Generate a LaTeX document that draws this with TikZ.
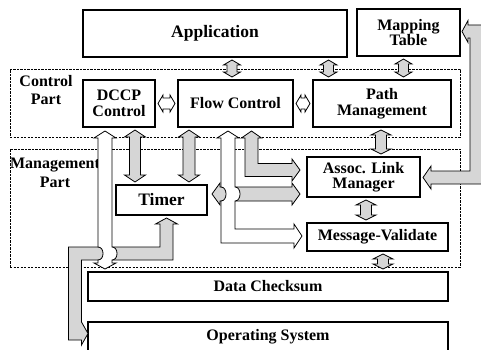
\documentclass[tikz,border=0pt]{standalone}
\usepackage{fontspec}
\setmainfont{Liberation Serif}
\usetikzlibrary{calc}
\newcommand\lblfont{\bfseries\fontsize{16}{15.5}\selectfont}
\newcommand\bigfont{\bfseries\fontsize{17.5}{17}\selectfont}
\newcommand\sidefont{\bfseries\fontsize{16}{18.5}\selectfont}
% vertical double block arrow: style, top point, bottom point, head half width, shaft half width, head length
\newcommand\vdarrow[6]{%
  \draw[#1] let \p1=#2, \p2=#3 in
    (\x1,{\y1-3pt}) -- ({\x1+#4pt},{\y1-3pt-#6pt}) -- ({\x1+#5pt},{\y1-3pt-#6pt})
    -- ({\x1+#5pt},{\y2+3pt+#6pt}) -- ({\x1+#4pt},{\y2+3pt+#6pt}) -- (\x1,{\y2+3pt})
    -- ({\x1-#4pt},{\y2+3pt+#6pt}) -- ({\x1-#5pt},{\y2+3pt+#6pt})
    -- ({\x1-#5pt},{\y1-3pt-#6pt}) -- ({\x1-#4pt},{\y1-3pt-#6pt}) -- cycle;}
% horizontal double block arrow: style, left point, right point, head half height, shaft half height, head length
\newcommand\hdarrow[6]{%
  \draw[#1] let \p1=#2, \p2=#3 in
    ({\x1+3pt},\y1) -- ({\x1+3pt+#6pt},{\y1+#4pt}) -- ({\x1+3pt+#6pt},{\y1+#5pt})
    -- ({\x2-3pt-#6pt},{\y1+#5pt}) -- ({\x2-3pt-#6pt},{\y1+#4pt}) -- ({\x2-3pt},\y1)
    -- ({\x2-3pt-#6pt},{\y1-#4pt}) -- ({\x2-3pt-#6pt},{\y1-#5pt})
    -- ({\x1+3pt+#6pt},{\y1-#5pt}) -- ({\x1+3pt+#6pt},{\y1-#4pt}) -- cycle;}
\begin{document}
\begin{tikzpicture}[x=1pt,y=-1pt,
  box/.style={draw, line width=2.4pt, align=center, font=\lblfont, inner sep=0pt, outer sep=0pt},
  tbox/.style={draw, line width=1.2pt, align=center, font=\lblfont, inner sep=0pt, outer sep=0pt},
  part/.style={draw, line width=0.9pt, dash pattern=on 2.2pt off 1.3pt, inner sep=0pt, outer sep=0pt},
  lab/.style={align=center, font=\sidefont, inner sep=0pt},
  garrow/.style={draw, line width=0.8pt, fill=black!16, line join=miter},
  warrow/.style={draw, line width=0.8pt, fill=white, line join=miter}]
\useasboundingbox (0,0) rectangle (481,350);
% group frames
\node[part, minimum width=450pt, minimum height=68pt] (ctrlpart) at (235,103) {};
\node[part, minimum width=450pt, minimum height=118pt] (mgmtpart) at (235,208) {};
\node[lab] (ctrllab) at (46,90) {Control\\Part};
\node[lab] (mgmtlab) at (55,173) {Management\\Part};
% boxes
\node[box, font=\bigfont, minimum width=264pt, minimum height=47pt] (app) at (215,33.5) {Application};
\node[box, minimum width=103pt, minimum height=47pt] (map) at (408.5,32.5) {Mapping\\Table};
\node[box, minimum width=72pt, minimum height=47pt] (dccp) at (119,103.5) {DCCP\\Control};
\node[box, minimum width=115pt, minimum height=47pt] (flow) at (235.5,103.5) {Flow Control};
\node[box, minimum width=138pt, minimum height=47pt] (path) at (382,103.5) {Path\\Management};
\node[tbox, minimum width=113pt, minimum height=40pt] (assoc) at (363.5,177) {Assoc. Link\\Manager};
\node[tbox, minimum width=141pt, minimum height=28pt] (msg) at (377.5,237) {Message-Validate};
\node[tbox, font=\bigfont, minimum width=91pt, minimum height=30pt] (timer) at (161.5,200) {Timer};
\node[box, minimum width=360pt, minimum height=29pt] (data) at (268,286.5) {Data Checksum};
\node[box, minimum width=360pt, minimum height=30pt] (os) at (268,337) {Operating System};
% Timer <-> Operating System (gray, passes under the white arrow)
\draw[garrow] (166.5,218) -- (177.5,224) -- (173,224) -- (173,260) -- (81.5,260)
  -- (81.5,322) -- (88,333.5) -- (81.5,345) -- (81.5,340) -- (68.5,340) -- (68.5,247)
  -- (160,247) -- (160,224) -- (155.5,224) -- cycle;
% DCCP Control <-> Data Checksum (white, hops over)
\draw[warrow] (105,131) -- (116,138) -- (112,138) -- (112,247)
  .. controls (118.7,247) and (118.7,260) .. (112,260) -- (112,263) -- (116,263)
  -- (105,269) -- (94,263) -- (98,263) -- (98,260)
  .. controls (104.7,260) and (104.7,247) .. (98,247) -- (98,138) -- (94,138) -- cycle;
% Timer <-> Assoc. Link Manager (gray)
\draw[garrow] (212,194) -- (220,183) -- (220,187) -- (292,187) -- (292,183) -- (300,194)
  -- (292,205) -- (292,201) -- (220,201) -- (220,205) -- cycle;
% Flow Control <-> Assoc. Link Manager (gray L)
\draw[garrow] (251.5,131) -- (261.5,138) -- (258,138) -- (258,163.5) -- (292,163.5)
  -- (292,159) -- (300,170) -- (292,181) -- (292,176.5) -- (245,176.5) -- (245,138)
  -- (241.5,138) -- cycle;
% Flow Control <-> Message-Validate (white L, hops over)
\draw[warrow] (228,131) -- (239,138) -- (235,138) -- (235,187)
  .. controls (241.7,187) and (241.7,201) .. (235,201) -- (235,229) -- (294,229)
  -- (294,224) -- (302,236) -- (294,248) -- (294,243) -- (221,243) -- (221,201)
  .. controls (227.7,201) and (227.7,187) .. (221,187) -- (221,138) -- (217,138) -- cycle;
% Mapping Table <-> Assoc. Link Manager (gray)
\draw[garrow] (462,31.5) -- (468,20.5) -- (468,25) -- (483,25) -- (483,184) -- (431,184)
  -- (431,189) -- (423,177.5) -- (431,166) -- (431,171) -- (470,171) -- (470,38)
  -- (468,38) -- (468,42.5) -- cycle;
% short double arrows
\vdarrow{garrow}{(232,0 |- app.south)}{(232,0 |- flow.north)}{8.5}{5}{5}
\vdarrow{garrow}{(328.5,0 |- app.south)}{(328.5,0 |- path.north)}{8.5}{5}{5}
\vdarrow{garrow}{(403.5,0 |- map.south)}{(403.5,0 |- path.north)}{8.5}{5}{5}
\vdarrow{garrow}{(381,0 |- path.south)}{(381,0 |- assoc.north)}{10}{5.5}{5}
\vdarrow{garrow}{(366,0 |- assoc.south)}{(366,0 |- msg.north)}{10}{5.5}{5}
\vdarrow{garrow}{(383,0 |- msg.south)}{(383,0 |- data.north)}{10}{5.5}{5}
\vdarrow{garrow}{(135,0 |- dccp.south)}{(135,0 |- timer.north)}{10.5}{5.5}{7}
\vdarrow{garrow}{(189,0 |- flow.south)}{(189,0 |- timer.north)}{10.5}{6}{7}
\hdarrow{warrow}{(dccp.east)}{(flow.west)}{8.5}{5.5}{5}
\hdarrow{warrow}{(flow.east)}{(path.west)}{8.5}{5.5}{5}
\end{tikzpicture}
\end{document}
